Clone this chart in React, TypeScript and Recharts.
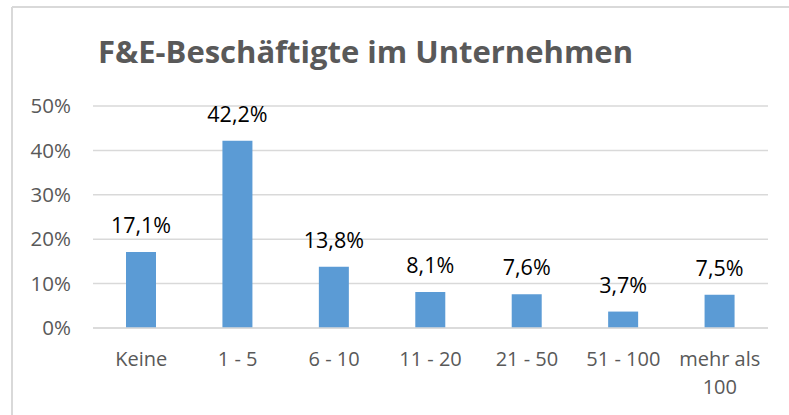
import React from 'react';
import { BarChart, Bar, XAxis, YAxis, CartesianGrid, LabelList } from 'recharts';

// F&E-Beschäftigte im Unternehmen – Anteil der Unternehmen je Größenklasse

const categories = ['Keine', '1 - 5', '6 - 10', '11 - 20', '21 - 50', '51 - 100', 'mehr als 100'];
const shares = [17.1, 42.2, 13.8, 8.1, 7.6, 3.7, 7.5];
const yTicks = [0, 10, 20, 30, 40, 50];

const C = {
  bar: '#5B9BD5',
  grid: '#D9D9D9',
  text: '#595959',
  label: '#000000',
};

const FONT = '"Open Sans", Lato, sans-serif';
const W = 789;
const H = 415;

const data = categories.map((name, i) => ({ name, value: shares[i] }));

const fmtPct = (v: number) => `${v.toFixed(1).replace('.', ',')}%`;

function XTick({ x, y, payload }: any) {
  const label: string = payload.value;
  // lange Kategorien auf zwei Zeilen umbrechen
  let lines = [label];
  if (label.length > 8) {
    const cut = label.lastIndexOf(' ');
    lines = [label.slice(0, cut), label.slice(cut + 1)];
  }
  return (
    <text x={x} y={y} textAnchor="middle" fill={C.text} fontSize={20} fontFamily={FONT}>
      {lines.map((l, i) => (
        <tspan key={i} x={x} dy={i === 0 ? 0 : 28}>
          {l}
        </tspan>
      ))}
    </text>
  );
}

function TopLabel({ x, y, width, value }: any) {
  return (
    <text x={x + width / 2} y={y - 19} textAnchor="middle" fill={C.label} fontSize={21.5} fontFamily={FONT}>
      {fmtPct(value)}
    </text>
  );
}

export default function App() {
  return (
    <div style={{ position: 'absolute', left: 0, top: 0, width: W, height: H, overflow: 'hidden', background: '#fff' }}>
      <svg width={W} height={H} style={{ position: 'absolute', left: 0, top: 0 }}>
        <line x1={12} y1={7} x2={W} y2={7} stroke={C.grid} strokeWidth={2} />
        <line x1={12} y1={7} x2={12} y2={H} stroke={C.grid} strokeWidth={2} />
        <text
          x={98}
          y={63}
          fill={C.text}
          fontSize={29.5}
          fontWeight={700}
          fontFamily={FONT}
          textLength={535}
          lengthAdjust="spacingAndGlyphs"
        >
          F&amp;E-Beschäftigte im Unternehmen
        </text>
      </svg>
      <div style={{ position: 'absolute', left: 0, top: 0 }}>
        <BarChart width={W} height={H} data={data} margin={{ top: 106, right: 21, left: 33, bottom: 27 }}>
          <CartesianGrid vertical={false} stroke={C.grid} strokeWidth={1.5} />
          <XAxis
            dataKey="name"
            interval={0}
            tickLine={false}
            axisLine={{ stroke: C.grid, strokeWidth: 1.5 }}
            tickSize={0}
            tickMargin={38}
            tick={<XTick />}
            height={60}
          />
          <YAxis
            width={60}
            domain={[0, 50]}
            ticks={yTicks}
            tickFormatter={(v: number) => `${v}%`}
            axisLine={false}
            tickLine={false}
            tickSize={0}
            tickMargin={22}
            tick={{ fill: C.text, fontSize: 20.5, fontFamily: FONT }}
          />
          <Bar dataKey="value" fill={C.bar} barSize={30} isAnimationActive={false}>
            <LabelList dataKey="value" content={<TopLabel />} />
          </Bar>
        </BarChart>
      </div>
    </div>
  );
}
